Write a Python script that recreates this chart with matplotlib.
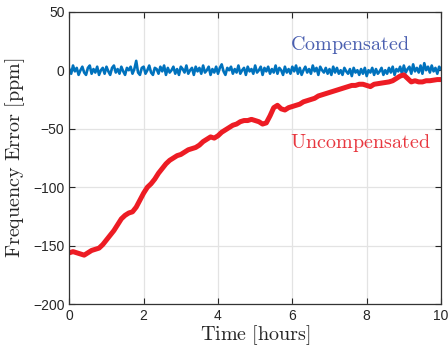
import numpy as np
import matplotlib
matplotlib.use("Agg")
import matplotlib.pyplot as plt

plt.rcParams['mathtext.fontset'] = 'cm'
plt.rcParams['font.family'] = ['Liberation Sans', 'DejaVu Sans']

unc_step = 0.1
uncompensated = [
    -156, -155, -156, -157, -158, -156, -154, -153, -152, -149,
    -145, -141, -137, -132, -127, -124, -122, -121, -117, -111,
    -105, -100, -97, -93, -88, -84, -80, -77, -75, -73,
    -72, -70, -68, -67, -66, -64, -61, -59, -57, -58,
    -56, -53, -51, -49, -47, -46, -44, -43, -43, -42,
    -43, -44, -46, -45, -39, -32, -30, -33, -34, -32,
    -31, -30, -29, -27, -26, -25, -24, -22, -21, -20,
    -19, -18, -17, -16, -15, -14, -13, -13, -12, -12,
    -13, -14, -12, -11.5, -11, -10.5, -10, -9, -7, -5,
    -4, -7, -10, -9, -10, -10, -9, -9, -8.5, -8, -8,
]
comp_step = 0.05
compensated = [
    1, -3, 4, -1, 2, -4, 0, 3, -2, -4,
    2, 4, -3, 1, -2, 3, -4, 0, 2, -3,
    3, -1, -4, 2, 4, -2, 1, -3, 3, -1,
    -4, 2, 0, 3, -3, 1, 8, -2, -4, 2,
    3, -3, 0, 4, -2, -4, 2, 1, -3, 3,
    -1, 4, -4, 2, -2, 0, 3, -3, 1, -4,
    3, 1, -2, 4, -3, 0, 2, -4, 3, -1,
    2, -3, 4, -2, 0, 3, -4, 1, -2, 3,
    -3, 2, 5, -1, -4, 2, 0, 3, -3, 1,
    -2, 4, -3, 0, 2, -4, 3, -1, 1, -3,
    4, -2, 0, 3, -4, 2, -1, 3, -3, 1,
    -2, 4, -3, 2, 0, -4, 3, -2, 1, -3,
    3, -1, 4, -3, 2, -4, 0, 3, -2, 1,
    -3, 4, -1, 2, -4, 3, 0, -2, 2, -3,
    1, -4, 3, -2, 2, -3, 0, -4, 2, -1,
    -3, 1, -5, 2, -2, 0, -4, 1, -3, 2,
    -5, 0, -2, 2, -4, 1, -3, -1, 2, -4,
    0, -3, 2, -2, 3, -4, 1, -1, 3, -3,
    4, -2, 1, 3, -3, 5, -1, 2, -2, 4,
    -3, 6, 0, 3, -2, 4, -1, 2, -3, 3,
    1,
]
t_unc = np.arange(len(uncompensated)) * unc_step
t_comp = np.arange(len(compensated)) * comp_step

fig = plt.figure(figsize=(4.48, 3.5), dpi=100)
ax = fig.add_axes([0.1547, 0.1306, 0.8297, 0.836])

ax.plot(t_comp, compensated, color='#0072BD', lw=1.9)
ax.plot(t_unc, uncompensated, color='#ED1C24', lw=3.6)

ax.set_xlim(0, 10)
ax.set_ylim(-200, 50)
ax.set_xticks([0, 2, 4, 6, 8, 10])
ax.set_yticks([-200, -150, -100, -50, 0, 50])
ax.grid(True, color='#e3e3e3', lw=0.9)
ax.set_axisbelow(True)
ax.tick_params(direction='in', length=4, top=True, right=True, labelsize=10,
               colors='#262626', width=0.8)
for s in ax.spines.values():
    s.set_color('#333333')
    s.set_linewidth(0.9)

ax.set_xlabel(r'$\mathrm{Time\ [hours]}$', fontsize=14.5, color='#262626', labelpad=0)
ax.set_ylabel(r'$\mathrm{Frequency\ Error\ [ppm]}$', fontsize=14.5, color='#262626', labelpad=4)

ax.text(5.94, 21.5, r'$\mathrm{Compensated}$', fontsize=14.5, color='#4a5fb0', va='center', ha='left')
ax.text(5.94, -62, r'$\mathrm{Uncompensated}$', fontsize=14.5, color='#e8373f', va='center', ha='left')

fig.savefig('out.png', dpi=100)
